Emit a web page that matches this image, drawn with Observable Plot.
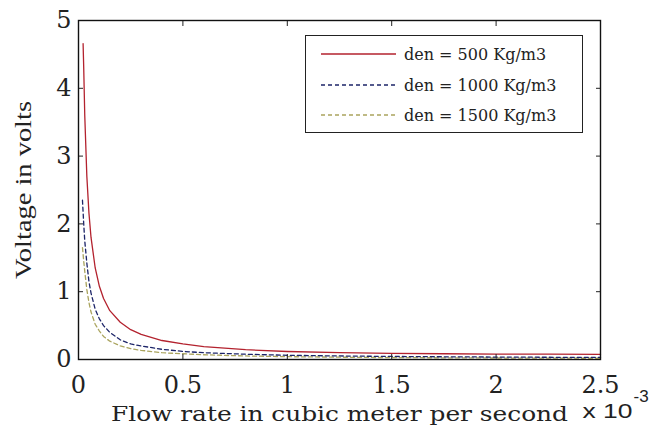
<!DOCTYPE html>
<html><head><meta charset="utf-8">
<script src="https://cdn.jsdelivr.net/npm/d3@7"></script>
<script src="https://cdn.jsdelivr.net/npm/@observablehq/plot@0.6"></script>
<style>
body{margin:0;background:#fff;}
#wrap{position:relative;width:650px;height:428px;background:#fff;}
#legend{position:absolute;left:305px;top:35px;width:276px;height:96px;border:1.5px solid #222;background:#fff;}
</style></head><body><div id="wrap"></div>
<script>
// Flow rate (x 10^-3 m^3/s) and voltage (V)
const flowRed = [0.022, 0.025, 0.03, 0.04, 0.05, 0.06, 0.08, 0.1, 0.12, 0.15, 0.2, 0.25, 0.3, 0.4, 0.5, 0.6, 0.8, 1.0, 1.25, 1.5, 1.75, 2.0, 2.25, 2.5];
const voltRed = [4.66, 4.3, 3.6, 2.7, 2.16, 1.8, 1.35, 1.08, 0.9, 0.72, 0.55, 0.44, 0.37, 0.28, 0.23, 0.19, 0.145, 0.118, 0.1, 0.09, 0.085, 0.08, 0.078, 0.075];
const flowOther = [0.019, 0.025, 0.03, 0.04, 0.05, 0.06, 0.08, 0.1, 0.12, 0.15, 0.2, 0.25, 0.3, 0.4, 0.5, 0.6, 0.8, 1.0, 1.25, 1.5, 1.75, 2.0, 2.25, 2.5];
const volt1000 = [2.35, 2.0, 1.75, 1.42, 1.15, 0.98, 0.74, 0.6, 0.5, 0.4, 0.29, 0.23, 0.2, 0.15, 0.12, 0.1, 0.078, 0.062, 0.052, 0.045, 0.04, 0.036, 0.033, 0.03];
const volt1500 = [1.65, 1.45, 1.3, 1.03, 0.84, 0.7, 0.52, 0.42, 0.34, 0.27, 0.2, 0.16, 0.135, 0.1, 0.085, 0.07, 0.052, 0.042, 0.034, 0.028, 0.025, 0.022, 0.02, 0.018];
const seriesNames = ["den = 500 Kg/m3", "den = 1000 Kg/m3", "den = 1500 Kg/m3"];
const seriesColors = ["#b3222e", "#1c2468", "#aaa45e"];
const seriesDash = [null, "4,3", "4,3"];
const xTicks = [0, 0.5, 1, 1.5, 2, 2.5];
const yTicks = [0, 1, 2, 3, 4, 5];
const xTitle = "Flow rate in cubic meter per second";
const yTitle = "Voltage in volts";

const rows = [];
flowRed.forEach((q, i) => rows.push({s: 0, q, v: voltRed[i]}));
flowOther.forEach((q, i) => rows.push({s: 1, q, v: volt1000[i]}));
flowOther.forEach((q, i) => rows.push({s: 2, q, v: volt1500[i]}));

const lines = [2, 1, 0].map(k => Plot.line(rows.filter(d => d.s === k), {
  x: "q", y: "v", stroke: seriesColors[k], strokeWidth: 1.3,
  strokeDasharray: seriesDash[k]
}));

const chart = Plot.plot({
  width: 650, height: 428,
  marginLeft: 78, marginRight: 50, marginTop: 20, marginBottom: 69,
  style: {fontFamily: "'DejaVu Serif', serif", fontSize: "24px", color: "#222", background: "#fff"},
  x: {domain: [0, 2.5]},
  y: {domain: [0, 5]},
  marks: [
    ...lines,
    Plot.axisX({anchor: "bottom", ticks: xTicks, tickSize: -5, tickPadding: 21, fontSize: 24, label: null, tickFormat: d => String(d)}),
    Plot.axisX({anchor: "top", ticks: xTicks, tickSize: -5, label: null, tickFormat: () => ""}),
    Plot.axisY({anchor: "left", ticks: yTicks, tickSize: -5, tickPadding: 12, fontSize: 24, label: null, tickFormat: d => String(d)}),
    Plot.axisY({anchor: "right", ticks: yTicks, tickSize: -5, label: null, tickFormat: () => ""}),
    Plot.frame({stroke: "#111", strokeWidth: 1.4}),
    Plot.text([xTitle], {frameAnchor: "bottom", dy: 55, fontSize: 21, lineAnchor: "middle", textAnchor: "middle"}),
    Plot.text([yTitle], {frameAnchor: "left", dx: -55, rotate: -90, fontSize: 24, fontFamily: "'Liberation Serif', serif", lineAnchor: "middle", textAnchor: "middle"}),
    Plot.text(["x 10"], {frameAnchor: "bottom-right", dx: -18, dy: 52, fontSize: 21, fontFamily: "'Liberation Sans', sans-serif", textAnchor: "start", lineAnchor: "middle"}),
    Plot.text(["-3"], {frameAnchor: "bottom-right", dx: 33, dy: 37, fontSize: 17, fontFamily: "'Liberation Sans', sans-serif", textAnchor: "start", lineAnchor: "middle"})
  ]
});
const wrap = document.getElementById("wrap");
wrap.appendChild(chart);

// stretch titles to the reference widths
d3.select(chart).selectAll("text").each(function() {
  const t = this.textContent;
  if (t === xTitle) { this.setAttribute("textLength", 457); this.setAttribute("lengthAdjust", "spacingAndGlyphs"); }
  if (t === yTitle) { this.setAttribute("textLength", 178); this.setAttribute("lengthAdjust", "spacingAndGlyphs"); }
  if (t === "x 10") { this.setAttribute("textLength", 50); this.setAttribute("lengthAdjust", "spacingAndGlyphs"); }
});

// legend
const leg = document.createElement("div");
leg.id = "legend";
wrap.appendChild(leg);
const ls = d3.select(leg).append("svg").attr("width", 276).attr("height", 96);
const rowY = [18, 49, 79];
seriesNames.forEach((name, k) => {
  ls.append("line").attr("x1", 15).attr("x2", 90).attr("y1", rowY[k]).attr("y2", rowY[k])
    .attr("stroke", seriesColors[k]).attr("stroke-width", 1.3)
    .attr("stroke-dasharray", seriesDash[k]);
  ls.append("text").attr("x", 98).attr("y", rowY[k]).attr("dy", "0.35em")
    .attr("font-family", "'DejaVu Serif', serif").attr("font-size", 16).attr("fill", "#222")
    .text(name);
});
</script>
</body></html>
